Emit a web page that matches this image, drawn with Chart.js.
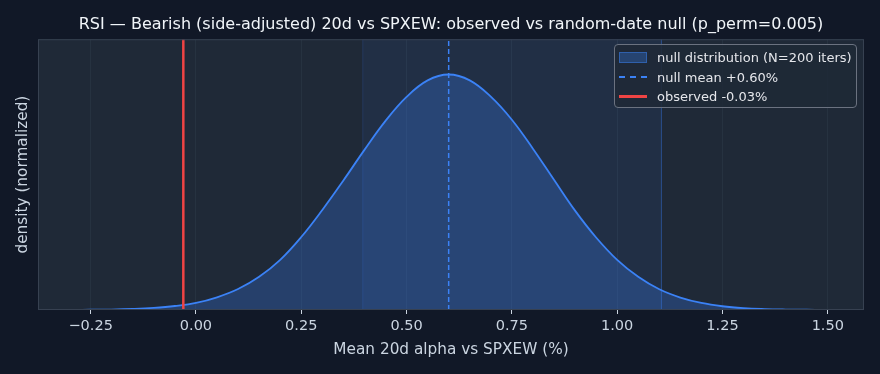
<!DOCTYPE html>
<html>
<head>
<meta charset="utf-8">
<script src="https://cdn.jsdelivr.net/npm/chart.js@4.4.1/dist/chart.umd.min.js"></script>
<style>
    body { margin: 0; background: #111827; font-family: "DejaVu Sans", sans-serif; }
    #wrap { position: relative; width: 880px; height: 374px; }
    .legend {
        position: absolute; left: 614px; top: 44px; width: 243px; height: 64px;
        background: rgba(31, 41, 55, 0.88); border: 1.5px solid #6b7280; border-radius: 4px;
        box-sizing: border-box; padding: 3px 0 0 4px;
    }
    .legend .item { display: flex; align-items: center; height: 19.5px; color: #e5e7eb; font-size: 13px; white-space: nowrap; }
    .legend .sw { width: 28px; margin-right: 10px; flex: none; }
    .sw.patch { height: 11px; background: rgba(59, 130, 246, 0.3); border: 1px solid rgba(59, 130, 246, 0.45); box-sizing: border-box; }
    .sw.dash { height: 0; border-top: 2px dashed #3b82f6; }
    .sw.solid { height: 3px; background: #ef4444; }
</style>
</head>
<body>
<div id="wrap">
    <canvas id="chart" width="880" height="374"></canvas>
    <div class="legend" id="legend"></div>
</div>
<script>
// Null distribution (density normalized to peak = 1)
const nullX = [-0.29, -0.25, -0.20, -0.15, -0.10, -0.05, 0.00, 0.05, 0.10, 0.15, 0.20, 0.25,
    0.30, 0.35, 0.40, 0.45, 0.50, 0.55, 0.60, 0.65, 0.70, 0.75, 0.80, 0.85, 0.90, 0.95,
    1.00, 1.05, 1.10, 1.15, 1.20, 1.25, 1.30, 1.35, 1.40, 1.45, 1.49];
const nullDensity = [0.0005, 0.001, 0.002, 0.0045, 0.009, 0.017, 0.030, 0.054, 0.089, 0.141, 0.213, 0.310,
    0.425, 0.550, 0.680, 0.803, 0.905, 0.975, 1.000, 0.975, 0.906, 0.808, 0.685, 0.553, 0.422, 0.308,
    0.213, 0.141, 0.088, 0.053, 0.030, 0.016, 0.008, 0.004, 0.002, 0.001, 0.0005];

const nullMean = 0.60;
const observed = -0.03;
const bandRange = [0.396, 1.105];
const iters = 200;

const tickValues = [-0.25, 0.00, 0.25, 0.50, 0.75, 1.00, 1.25, 1.50];
const tickLabels = ['\u22120.25', '0.00', '0.25', '0.50', '0.75', '1.00', '1.25', '1.50'];

const xRange = [-0.375, 1.586];
const yTop = 1.15;

const legendItems = [
    { cls: 'patch', text: `null distribution (N=${iters} iters)` },
    { cls: 'dash', text: `null mean +${nullMean.toFixed(2)}%` },
    { cls: 'solid', text: `observed ${observed.toFixed(2)}%` }
];

// Plot background and frame
const plotFrame = {
    id: 'plotFrame',
    beforeDraw(chart) {
        const { ctx, chartArea: a } = chart;
        ctx.save();
        ctx.fillStyle = '#1f2937';
        ctx.fillRect(a.left, a.top, a.right - a.left, a.bottom - a.top);
        ctx.restore();
    },
    afterDraw(chart) {
        const { ctx, chartArea: a } = chart;
        ctx.save();
        ctx.strokeStyle = '#374151';
        ctx.lineWidth = 1;
        ctx.strokeRect(a.left + 0.5, a.top + 0.5, a.right - a.left - 1, a.bottom - a.top - 1);
        ctx.restore();
    }
};

function initChart() {
    const ctx = document.getElementById('chart').getContext('2d');
    const curve = nullX.map((x, i) => ({ x: x, y: nullDensity[i] }));

    new Chart(ctx, {
        type: 'line',
        data: {
            datasets: [
                {
                    label: 'observed',
                    data: [{ x: observed, y: 0 }, { x: observed, y: yTop }],
                    borderColor: '#ef4444',
                    borderWidth: 2.5,
                    pointRadius: 0,
                    fill: false
                },
                {
                    label: 'null mean',
                    data: [{ x: nullMean, y: 0 }, { x: nullMean, y: yTop }],
                    borderColor: '#3b82f6',
                    borderWidth: 1.5,
                    borderDash: [5, 3],
                    pointRadius: 0,
                    fill: false
                },
                {
                    label: 'null distribution',
                    data: curve,
                    borderColor: '#3b82f6',
                    borderWidth: 1.8,
                    backgroundColor: 'rgba(59, 130, 246, 0.27)',
                    tension: 0.4,
                    pointRadius: 0,
                    fill: 'origin'
                },
                {
                    label: 'band',
                    data: [
                        { x: bandRange[0], y: 0 }, { x: bandRange[0], y: yTop },
                        { x: bandRange[1], y: yTop }, { x: bandRange[1], y: 0 }
                    ],
                    borderColor: 'rgba(59, 130, 246, 0.18)',
                    borderWidth: 1,
                    backgroundColor: 'rgba(59, 130, 246, 0.08)',
                    pointRadius: 0,
                    fill: 'origin'
                }
            ]
        },
        options: {
            responsive: false,
            animation: false,
            devicePixelRatio: 1,
            layout: { padding: { left: 0, right: 16, top: 0, bottom: 0 } },
            scales: {
                x: {
                    type: 'linear',
                    min: xRange[0],
                    max: xRange[1],
                    afterBuildTicks: scale => {
                        scale.ticks = tickValues.map(v => ({ value: v }));
                    },
                    afterFit: scale => { scale.height = 64; },
                    ticks: {
                        color: '#cbd5e1',
                        font: { family: 'DejaVu Sans', size: 14.5 },
                        padding: 4,
                        maxRotation: 0,
                        callback: value => tickLabels[tickValues.indexOf(value)]
                    },
                    grid: {
                        color: 'rgba(148, 163, 184, 0.07)',
                        tickColor: '#cbd5e1',
                        tickLength: 4,
                        drawTicks: true
                    },
                    border: { display: false },
                    title: {
                        display: true,
                        text: 'Mean 20d alpha vs SPXEW (%)',
                        color: '#cbd5e1',
                        font: { family: 'DejaVu Sans', size: 15.3 },
                        padding: { top: 0, bottom: 15 }
                    }
                },
                y: {
                    min: 0,
                    max: yTop,
                    ticks: { display: false },
                    grid: { display: false },
                    border: { display: false },
                    afterFit: scale => { scale.width = 38; },
                    title: {
                        display: true,
                        text: 'density (normalized)',
                        color: '#cbd5e1',
                        font: { family: 'DejaVu Sans', size: 15.3 },
                        padding: { top: 14, bottom: 0 }
                    }
                }
            },
            plugins: {
                legend: { display: false },
                tooltip: { enabled: false },
                title: {
                    display: true,
                    fullSize: false,
                    text: 'RSI \u2014 Bearish (side-adjusted) 20d vs SPXEW: observed vs random-date null (p_perm=0.005)',
                    color: '#f1f5f9',
                    font: { family: 'DejaVu Sans', size: 16, weight: 'normal' },
                    padding: { top: 15, bottom: 5 }
                }
            }
        },
        plugins: [plotFrame]
    });
}

function buildLegend() {
    document.getElementById('legend').innerHTML = legendItems.map(item => `
        <div class="item"><span class="sw ${item.cls}"></span><span>${item.text}</span></div>
    `).join('');
}

document.addEventListener('DOMContentLoaded', () => {
    initChart();
    buildLegend();
});
</script>
</body>
</html>
